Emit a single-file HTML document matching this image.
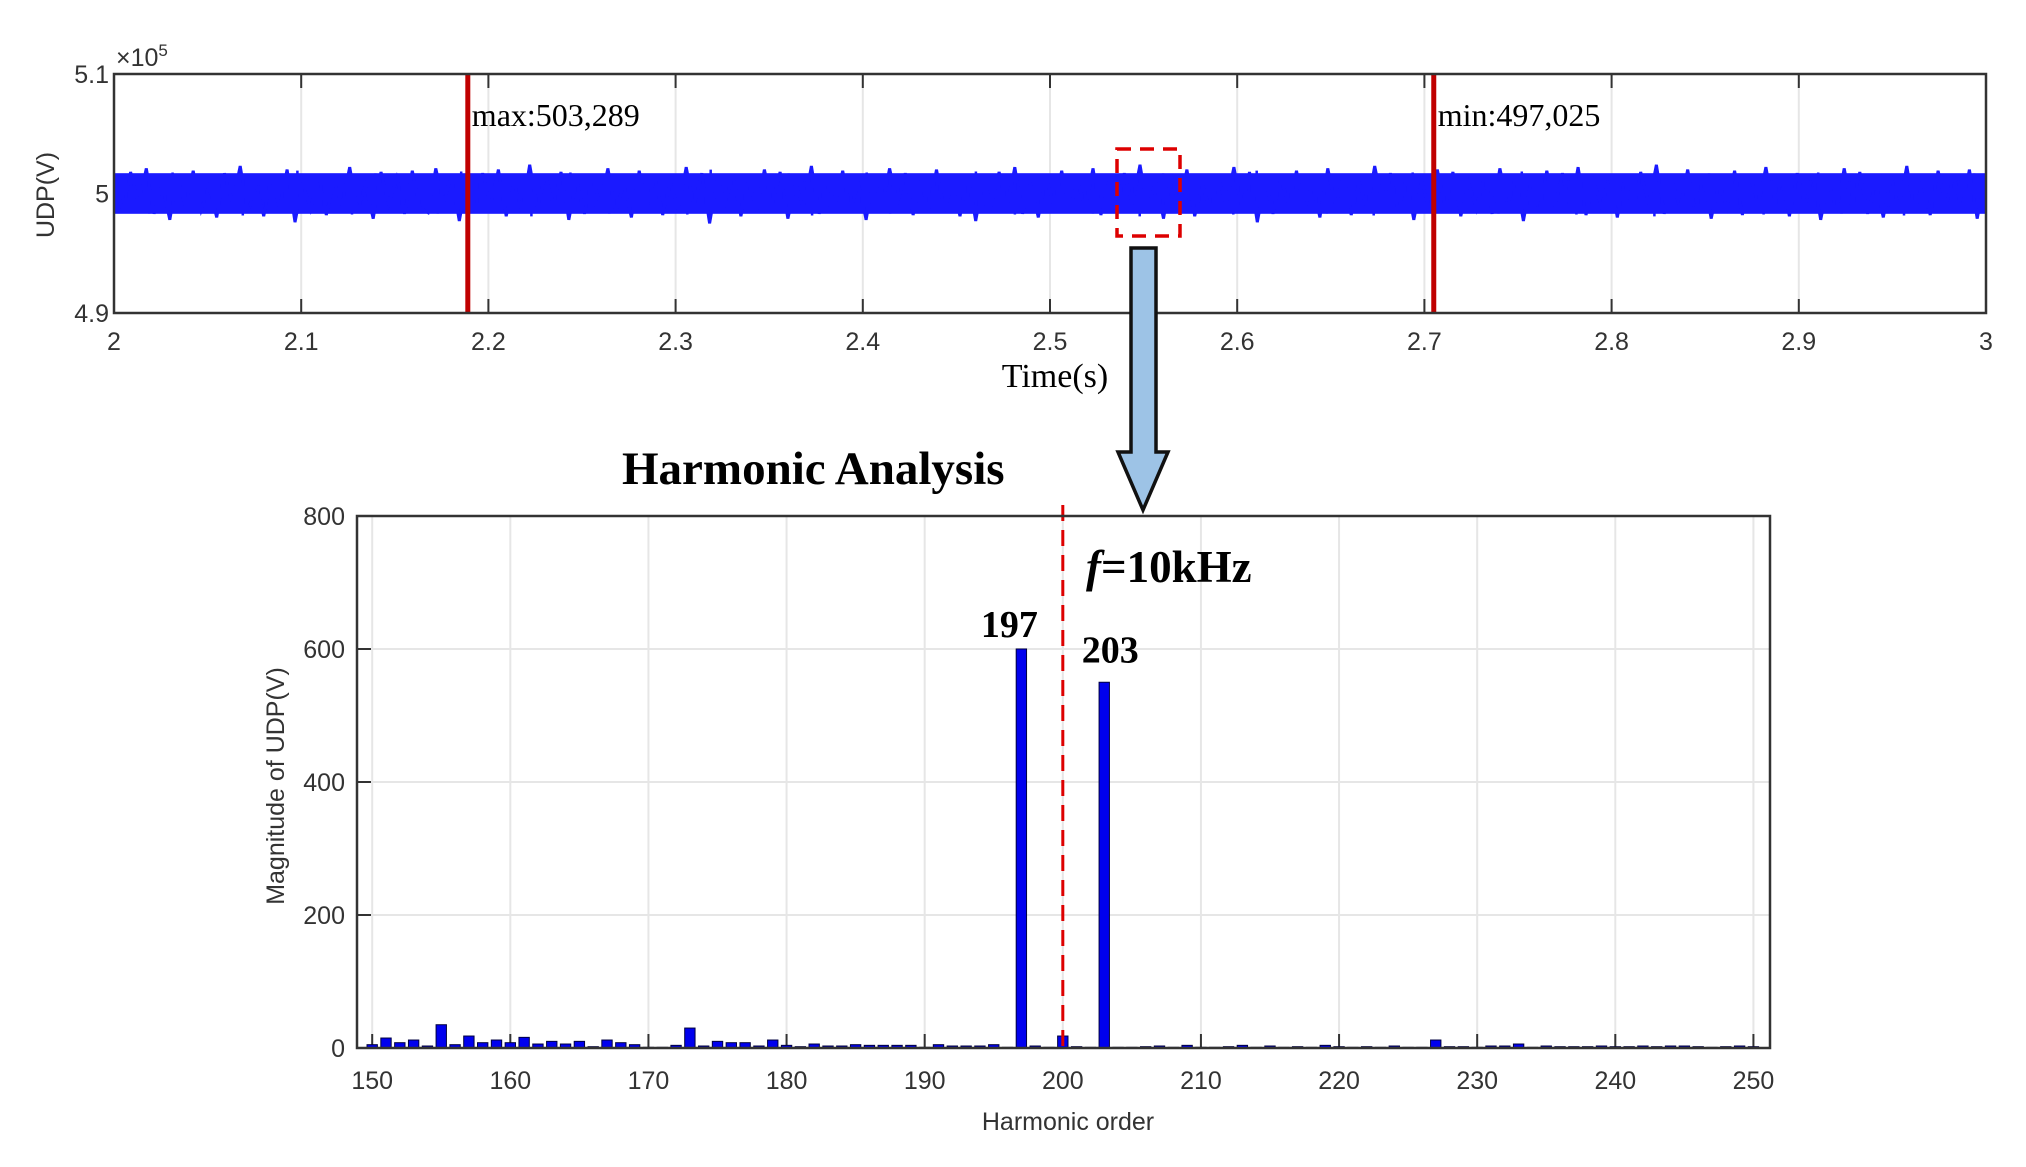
<!DOCTYPE html>
<html><head><meta charset="utf-8"><style>
html,body{margin:0;padding:0;background:#fff;}
svg{display:block;}
.tk{font-family:"Liberation Sans",sans-serif;font-size:25px;fill:#333;}
.sf{font-family:"Liberation Serif",serif;}
</style></head><body>
<svg id="fig" width="2026" height="1167" viewBox="0 0 2026 1167" xmlns="http://www.w3.org/2000/svg">
<g id="topPlot"></g>
<g id="botPlot"></g>
<g id="deco">
<rect x="1117" y="149" width="63" height="87" fill="none" stroke="#d00" stroke-width="3.5" stroke-dasharray="14,9"/>
<polygon points="1131,248 1156,248 1156,452 1168,452 1143,510 1118,452 1131,452" fill="#9dc3e6" stroke="#111" stroke-width="3.5"/>
<text x="622" y="484" class="sf" font-size="47" font-weight="bold">Harmonic Analysis</text>
</g>
</svg>
<script>
const NS='http://www.w3.org/2000/svg';
function mk(p,t,a){const e=document.createElementNS(NS,t);for(const k in a)e.setAttribute(k,a[k]);p.appendChild(e);return e;}
// ---- top chart data ----
const timeTicks=[2,2.1,2.2,2.3,2.4,2.5,2.6,2.7,2.8,2.9,3];
const timeTickLabels=['2','2.1','2.2','2.3','2.4','2.5','2.6','2.7','2.8','2.9','3'];
const udpTicks=[4.9e5,5e5,5.1e5];
const udpTickLabels=['4.9','5','5.1'];
const markerTimes=[2.189,2.705];
const markerLabels=['max:503,289','min:497,025'];
const udpBase=500000;
const udpDev=[12,-15,18,-9,21,-17,8,-22,15,-11,19,-14,6,-20,17,-8,23,-16,10,-19,14,-12,20,-24,9,-13,16,-18,11,-10,22,-15,7,-21,18,-9,13,-17,19,-12,
-16,21,-8,15,-23,12,-14,17,-11,20,-19,9,-15,24,-13,16,-10,18,-22,11,-17,14,-9,21,-16,8,-20,19,-12,15,-18,10,-14,22,-11,17,-25,13,-8,16,
-19,12,-15,20,-10,18,-21,9,-13,23,-17,14,-11,19,-16,10,-22,15,-12,21,-9,17,-18,11,-14,20,-15,8,-19,16,-23,13,-10,18,-12,22,-17,9,-20,14,
-11,19,-16,12,-13,21,-18,10,-15,17,-9,24,-14,11,-21,16,-12,20,-19,8,-16,15,-10,22,-13,18,-24,12,-17,14,-11,19,-15,9,-20,21,-12,16,-18,10,
-14,23,-9,17,-16,13,-22,11,-15,20,-12,18,-19,9,-13,15,-17,21,-10,14,-23,12,-16,19,-11,17,-14,22,-18,10,-12,16,-20,13,-15,18,-9,24,-17,11,
-13,20,-16,14,-21,9,-12,19,-18,15,-10,22,-14,12,-19,17,-11,16,-22,10,-15,21,-13,18,-17,9,-20,14,-12,23,-16,11,-18,19,-10,15,-14,20,-21,13];
const T={l:114,r:1986,t:74,b:313,x0:2,x1:3,y0:4.9e5,y1:5.1e5};
const tx=v=>T.l+(v-T.x0)/(T.x1-T.x0)*(T.r-T.l);
const ty=v=>T.b-(v-T.y0)/(T.y1-T.y0)*(T.b-T.t);
const topG=document.getElementById('topPlot');
timeTicks.forEach((v,i)=>{
 const g=mk(topG,'line',{x1:tx(v),x2:tx(v),y1:T.t,y2:T.b,stroke:'#e6e6e6','stroke-width':2});
 
 
 const k=mk(topG,'line',{x1:tx(v),x2:tx(v),y1:T.b,y2:T.b-14,stroke:'#333','stroke-width':2});
 
 
 const k2=mk(topG,'line',{x1:tx(v),x2:tx(v),y1:T.t,y2:T.t+14,stroke:'#333','stroke-width':2});
 
 
 const t=mk(topG,'text',{x:tx(v),y:T.b+37,'text-anchor':'middle',class:'tk'});t.textContent=timeTickLabels[i];
 
 
});
udpTicks.forEach((v,i)=>{
 const t=mk(topG,'text',{x:T.l-5,y:ty(v)+9,'text-anchor':'end',class:'tk'});t.textContent=udpTickLabels[i];
 
 
});
const band=mk(topG,'rect',{x:T.l,y:ty(udpBase+1700),width:T.r-T.l,height:ty(udpBase-1700)-ty(udpBase+1700),fill:'#1a1aff'});


let d='';const n=udpDev.length;
udpDev.forEach((v,i)=>{const x=T.l+1+i/(n-1)*(T.r-T.l-2);d+=(i?'L':'M')+x.toFixed(1)+','+ty(udpBase+v*100).toFixed(1);});
const sig=mk(topG,'path',{d:d,fill:'none',stroke:'#1a1aff','stroke-width':3,'stroke-linejoin':'miter'});


let d2='';
udpDev.forEach((v,i)=>{const x=T.l+4+i/(n-1)*(T.r-T.l-8);d2+='M'+x.toFixed(1)+','+ty(udpBase-v*80).toFixed(1)+'V'+ty(udpBase+v*70).toFixed(1);});
const sp=mk(topG,'path',{d:d2,fill:'none',stroke:'#1a1aff','stroke-width':2.5});


markerTimes.forEach((v,i)=>{
 const l=mk(topG,'line',{x1:tx(v),x2:tx(v),y1:T.t,y2:T.b,stroke:'#c00000','stroke-width':5});
 
 
 const t=mk(topG,'text',{x:tx(v)+4,y:126,class:'sf','font-size':32,fill:'#000'});t.textContent=markerLabels[i];
 
 
});
const fr=mk(topG,'rect',{x:T.l,y:T.t,width:T.r-T.l,height:T.b-T.t,fill:'none',stroke:'#333','stroke-width':2.5});


const ex=mk(topG,'text',{x:116,y:66,class:'tk','font-size':23});ex.innerHTML='×10<tspan dy="-10" font-size="17">5</tspan>';


const yt=mk(topG,'text',{x:0,y:0,class:'tk','font-size':28,'text-anchor':'middle',transform:'translate(54,195) rotate(-90)'});yt.textContent='UDP(V)';


const xt=mk(topG,'text',{x:1055,y:387,class:'sf','font-size':34,'text-anchor':'middle',fill:'#000'});xt.textContent='Time(s)';



// ---- bottom chart data ----
const orders=[];for(let h=150;h<=250;h++)orders.push(h);
const magnitudes=[5,15,8,12,3,35,5,18,8,12,8,16,6,10,6,10,2,12,8,5,1,1,4,30,3,10,8,8,3,12,
4,2,6,3,3,5,4,4,4,4,1,5,3,3,3,5,1,600,3,1,18,2,1,550,1,1,2,3,1,4,
1,1,2,4,1,3,1,2,1,4,2,1,2,1,3,1,1,12,2,2,1,3,3,6,1,3,2,2,2,3,2,2,3,2,3,3,2,1,2,3,2];
const hTicks=[150,160,170,180,190,200,210,220,230,240,250];
const magTicks=[0,200,400,600,800];
const peakOrders=[197,203];
const peakLabels=['197','203'];
const B={l:357,r:1770,t:516,b:1048,x0:148.9,x1:251.2,y0:0,y1:800};
const bx=v=>B.l+(v-B.x0)/(B.x1-B.x0)*(B.r-B.l);
const by=v=>B.b-(v-B.y0)/(B.y1-B.y0)*(B.b-B.t);
const botG=document.getElementById('botPlot');
hTicks.forEach(v=>{
 const g=mk(botG,'line',{x1:bx(v),x2:bx(v),y1:B.t,y2:B.b,stroke:'#e6e6e6','stroke-width':2});
 
 
 const k=mk(botG,'line',{x1:bx(v),x2:bx(v),y1:B.b,y2:B.b-14,stroke:'#333','stroke-width':2});
 
 
 const t=mk(botG,'text',{x:bx(v),y:B.b+41,'text-anchor':'middle',class:'tk'});t.textContent=String(v);
 
 
});
magTicks.forEach(v=>{
 const g=mk(botG,'line',{x1:B.l,x2:B.r,y1:by(v),y2:by(v),stroke:'#e6e6e6','stroke-width':2});
 
 
 const k=mk(botG,'line',{x1:B.l,x2:B.l+14,y1:by(v),y2:by(v),stroke:'#333','stroke-width':2});
 
 
 const t=mk(botG,'text',{x:B.l-12,y:by(v)+9,'text-anchor':'end',class:'tk'});t.textContent=String(v);
 
 
});
const bw=(bx(1)-bx(0))*0.75;
orders.forEach((h,i)=>{
 const m=magnitudes[i];
 const r=mk(botG,'rect',{x:bx(h)-bw/2,y:by(m),width:bw,height:Math.max(0,B.b-by(m)),fill:'#0000ee',stroke:'#000040','stroke-width':1});
 
 
});
const dl=mk(botG,'line',{x1:bx(200),x2:bx(200),y1:505,y2:B.b,stroke:'#d00','stroke-width':3,'stroke-dasharray':'16,9'});


peakOrders.forEach((h,i)=>{
 const m=magnitudes[orders.indexOf(h)];
 const t=mk(botG,'text',{x:bx(h)-(i?-6:12),y:by(m)-(i?20:12),'text-anchor':'middle',class:'sf','font-size':38,'font-weight':'bold',fill:'#000'});t.textContent=peakLabels[i];
 
 
});
const fl=mk(botG,'text',{x:1086,y:582,class:'sf','font-size':45,'font-weight':'bold',fill:'#000'});fl.innerHTML='<tspan font-style="italic">f</tspan>=10kHz';


const bf=mk(botG,'rect',{x:B.l,y:B.t,width:B.r-B.l,height:B.b-B.t,fill:'none',stroke:'#333','stroke-width':2.5});


const byt=mk(botG,'text',{x:0,y:0,class:'tk','font-size':28,'text-anchor':'middle',transform:'translate(284,786) rotate(-90)'});byt.textContent='Magnitude of UDP(V)';


const bxt=mk(botG,'text',{x:1068,y:1130,class:'tk','font-size':28,'text-anchor':'middle'});bxt.textContent='Harmonic order';


</script>
</body></html>
